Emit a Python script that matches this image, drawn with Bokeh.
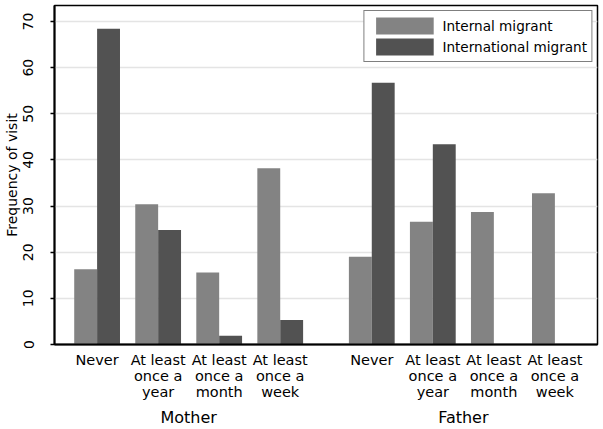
from bokeh.plotting import figure
from bokeh.models import (Range1d, FixedTicker, LinearAxis, Legend, LegendItem,
                          ColumnDataSource)
from bokeh.transform import dodge
from bokeh.embed import file_html
from bokeh.resources import INLINE

# ---- data ----
groups = ["Mother", "Father"]
categories = ["Never", "At least once a year", "At least once a month", "At least once a week"]
tick_labels = ["Never", "At least\nonce a\nyear", "At least\nonce a\nmonth", "At least\nonce a\nweek"]
series_names = ["Internal migrant", "International migrant"]
internal_mother = [16.3, 30.4, 15.6, 38.2]
international_mother = [68.4, 24.8, 1.9, 5.3]
internal_father = [19.0, 26.6, 28.7, 32.8]
international_father = [56.7, 43.4, 0.0, 0.0]
y_ticks = [0, 10, 20, 30, 40, 50, 60, 70]

FONT = "DejaVu Sans"
C_INT = "#838383"
C_INTL = "#525252"
GROUP_GAP = 4.5   # slot offset of the second group
BAR_W = 0.375

pos = []
for g in range(len(groups)):
    for i in range(len(categories)):
        pos.append(g * GROUP_GAP + i)

src = ColumnDataSource(dict(
    x=pos,
    internal=internal_mother + internal_father,
    international=international_mother + international_father,
))

p = figure(width=603, height=429,
           x_range=Range1d(-0.698, 8.198), y_range=Range1d(0, 73.46),
           output_backend="svg", toolbar_location=None,
           min_border_left=49, min_border_right=6, min_border_top=5, min_border_bottom=0,
           background_fill_color="white", border_fill_color="white")

r1 = p.vbar(x=dodge("x", -BAR_W / 2, range=p.x_range), top="internal", width=BAR_W,
            source=src, fill_color=C_INT, line_color=None)
r2 = p.vbar(x=dodge("x", BAR_W / 2, range=p.x_range), top="international", width=BAR_W,
            source=src, fill_color=C_INTL, line_color=None)

p.outline_line_color = "black"
p.outline_line_width = 1.5
p.outline_line_alpha = 1

p.xgrid.visible = False
p.ygrid.grid_line_color = "#e4e4e4"
p.ygrid.grid_line_width = 1.5

# y axis
yax = p.yaxis[0]
yax.ticker = FixedTicker(ticks=y_ticks)
yax.minor_tick_line_color = None
yax.major_tick_out = 4
yax.major_tick_in = 0
yax.major_tick_line_color = "black"
yax.major_tick_line_width = 1.5
yax.axis_line_color = "black"
yax.axis_line_width = 2
yax.major_label_orientation = "vertical"
yax.major_label_standoff = 17
yax.major_label_text_font = FONT
yax.major_label_text_font_size = "14px"
yax.major_label_text_color = "black"
yax.axis_label = "Frequency of visit"
yax.axis_label_text_font = FONT
yax.axis_label_text_font_size = "14px"
yax.axis_label_text_font_style = "normal"
yax.axis_label_text_color = "black"
yax.axis_label_standoff = 1

# x axis: categories
xax = p.xaxis[0]
xax.ticker = FixedTicker(ticks=pos)
xax.major_label_overrides = {x: tick_labels[k % len(categories)] for k, x in enumerate(pos)}
xax.major_tick_line_color = None
xax.minor_tick_line_color = None
xax.major_tick_out = 0
xax.major_tick_in = 0
xax.axis_line_color = "black"
xax.axis_line_width = 2
xax.major_label_standoff = 7
xax.major_label_text_font = FONT
xax.major_label_text_font_size = "14.5px"
xax.major_label_text_line_height = 1.0
xax.major_label_text_color = "black"

# second x axis: groups
centers = [g * GROUP_GAP + (len(categories) - 1) / 2 for g in range(len(groups))]
gax = LinearAxis(ticker=FixedTicker(ticks=centers),
                 major_label_overrides={c: groups[k] for k, c in enumerate(centers)})
gax.axis_line_color = None
gax.major_tick_line_color = None
gax.minor_tick_line_color = None
gax.major_tick_out = 0
gax.major_tick_in = 0
gax.major_label_standoff = 5
gax.major_label_text_font = FONT
gax.major_label_text_font_size = "16px"
gax.major_label_text_color = "black"
p.add_layout(gax, "below")

legend = Legend(items=[LegendItem(label=series_names[0], renderers=[r1]),
                       LegendItem(label=series_names[1], renderers=[r2])],
                location="top_right")
legend.margin = 5
legend.padding = 4
legend.spacing = 0
legend.glyph_width = 72
legend.glyph_height = 21
legend.label_standoff = 2
legend.label_text_font = FONT
legend.label_text_font_size = "13.6px"
legend.label_text_color = "black"
legend.border_line_color = "black"
legend.border_line_width = 1.2
legend.background_fill_color = "white"
legend.background_fill_alpha = 1
p.add_layout(legend)

open("out.html", "w").write(file_html(p, INLINE))
